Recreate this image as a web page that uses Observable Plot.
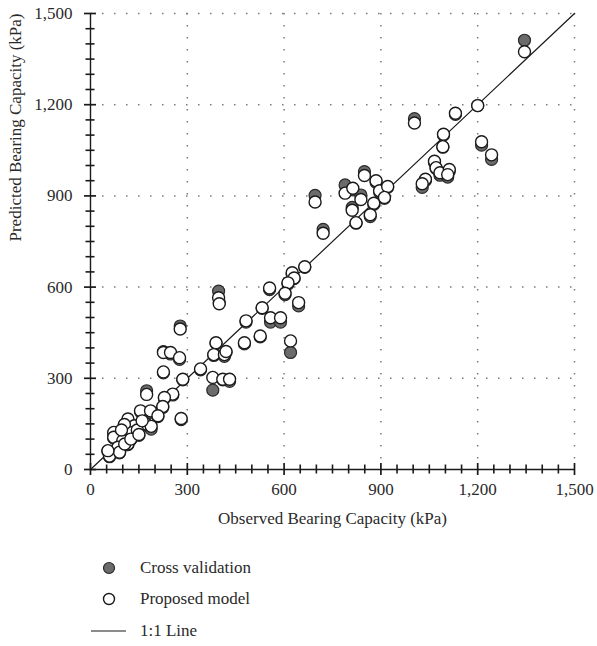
<!DOCTYPE html>
<html><head><meta charset="utf-8">
<script src="https://cdn.jsdelivr.net/npm/d3@7"></script>
<script src="https://cdn.jsdelivr.net/npm/@observablehq/plot@0.6"></script>
<style>
body{margin:0;background:#fff;font-family:"Liberation Serif",serif;}
#legend{padding-top:12px;padding-left:91px;font-size:17px;color:#2a2a2a;}
.row{height:31.5px;display:flex;align-items:center;}
.row svg{width:36px;height:20px;flex:none;}
.row span{margin-left:13px;}
</style></head><body>
<div id="chart"></div>
<div id="legend"></div>
<script>
const observed = [1345,1200,1131,1004,1094,1092,1212,1243,1066,1071,1083,1112,1107,1038,1028,885,896,921,911,849,789,813,838,878,811,867,823,696,721,
664,625,631,612,603,555,645,397,399,532,482,558,589,526,477,620,389,382,415,420,341,379,410,431,
278,226,248,276,226,286,255,229,174,281,224,155,186,209,172,188,116,136,105,72,72,116,100,116,85,59,90,106,54,130,145,160,125,96,150];
const proposed = [1374,1197,1172,1140,1103,1062,1078,1035,1014,993,976,987,970,955,940,950,917,931,895,967,909,925,888,876,853,838,812,880,777,
667,647,630,614,580,597,549,565,545,532,489,499,499,439,417,423,417,378,378,388,331,303,297,297,
462,385,385,368,321,297,248,237,247,168,207,193,193,177,150,142,166,144,148,122,106,111,95,84,73,44,57,84,62,122,130,160,100,130,115];
const crossVal = [1412,1197,1168,1154,1100,1060,1067,1020,1010,990,968,982,962,950,928,945,912,928,892,980,936,920,903,872,862,832,810,902,790,
665,642,628,610,575,592,538,587,550,530,485,485,485,436,413,385,415,375,372,385,328,261,295,290,
472,388,380,362,318,295,245,234,259,164,204,190,188,174,147,133,160,140,145,118,103,108,92,82,70,42,55,80,60,118,127,155,98,126,112];
const majorTicks = [0,300,600,900,1200,1500];
const minorTicks = [50,100,150,200,250,350,400,450,500,550,650,700,750,800,850,950,1000,1050,1100,1150,1250,1300,1350,1400,1450];
const oneToOne = [0,1500];
const xTitle = "Observed Bearing Capacity (kPa)";
const yTitle = "Predicted Bearing Capacity (kPa)";
const seriesNames = ["Cross validation","Proposed model","1:1 Line"];

const points = observed.map((x,i)=>({x, proposed: proposed[i], cv: crossVal[i]}));
const fmt = d3.format(",");
const ink = "#1a1a1a";
const grid = {stroke:"#7a7a7a", strokeOpacity:1, strokeDasharray:"1.5,10.5", strokeWidth:1.5};
const xTick = (len, w) => ({x: d => d, y1: 0, y2: 0, insetTop: -len, insetBottom: -len, stroke: ink, strokeWidth: w});
const yTick = (len, w) => ({y: d => d, x1: 0, x2: 0, insetLeft: -len, insetRight: -len, stroke: ink, strokeWidth: w});

const chart = Plot.plot({
  width: 597, height: 540,
  marginLeft: 90, marginRight: 23, marginTop: 13, marginBottom: 71,
  style: {fontFamily: "'Liberation Serif', serif", fontSize: "17px", color: "#2a2a2a", background: "white"},
  x: {domain: [0,1500], label: null},
  y: {domain: [0,1500], label: null},
  marks: [
    Plot.gridX(majorTicks.slice(1), grid),
    Plot.gridY(majorTicks.slice(1), grid),
    Plot.axisX(majorTicks, {tickSize: 0, tickPadding: 13, tickFormat: fmt, fill: "#2a2a2a"}),
    Plot.axisY(majorTicks, {tickSize: 0, tickPadding: 18, tickFormat: fmt, fill: "#2a2a2a"}),
    Plot.ruleX([0], {stroke: ink, strokeWidth: 1.4}),
    Plot.ruleY([0], {stroke: ink, strokeWidth: 1.4}),
    Plot.ruleX(minorTicks, xTick(4.5, 1.6)),
    Plot.ruleX(majorTicks, xTick(6, 1.7)),
    Plot.ruleY(minorTicks, yTick(4.5, 1.6)),
    Plot.ruleY(majorTicks, yTick(6, 1.7)),
    Plot.text([xTitle], {text: d => d, frameAnchor: "bottom", dy: 54, fill: "#2a2a2a", fontSize: 17}),
    Plot.text([yTitle], {text: d => d, frameAnchor: "left", dx: -75, rotate: -90, fill: "#2a2a2a", fontSize: 17}),
    Plot.line(oneToOne.map(v => ({v})), {x: "v", y: "v", stroke: ink, strokeWidth: 1.2}),
    Plot.dot(points, {x: "x", y: "cv", r: 6, fill: "#6b6b6b", stroke: "#2a2a2a", strokeWidth: 1.2}),
    Plot.dot(points, {x: "x", y: "proposed", r: 6, fill: "white", stroke: ink, strokeWidth: 1.4})
  ]
});
document.getElementById("chart").appendChild(chart);

const lg = document.getElementById("legend");
lg.innerHTML = `
<div class="row"><svg viewBox="0 0 36 20"><circle cx="18" cy="10" r="5.5" fill="#6b6b6b" stroke="#2a2a2a" stroke-width="1.2"/></svg><span>${seriesNames[0]}</span></div>
<div class="row"><svg viewBox="0 0 36 20"><circle cx="18" cy="10" r="5.5" fill="white" stroke="#1a1a1a" stroke-width="1.4"/></svg><span>${seriesNames[1]}</span></div>
<div class="row"><svg viewBox="0 0 36 20"><line x1="0" y1="10" x2="35" y2="10" stroke="#1a1a1a" stroke-width="1.2"/></svg><span>${seriesNames[2]}</span></div>`;
</script>
</body></html>
